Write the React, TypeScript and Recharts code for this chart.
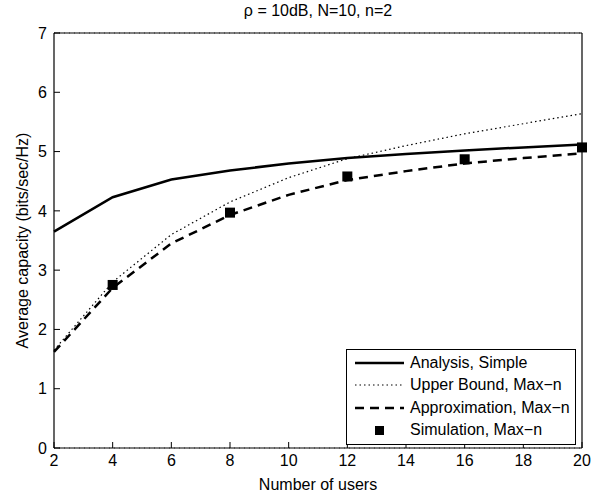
import { ComposedChart, Line, Scatter, XAxis, YAxis, CartesianGrid } from 'recharts'

// users axis (even values only, markers every 4)
const users = [2, 4, 6, 8, 10, 12, 14, 16, 18, 20]
const analysisSimple = [3.65, 4.23, 4.53, 4.68, 4.8, 4.89, 4.96, 5.02, 5.07, 5.12]
const upperBound = [1.65, 2.8, 3.6, 4.15, 4.56, 4.88, 5.1, 5.3, 5.47, 5.64]
const approximation = [1.62, 2.7, 3.45, 3.93, 4.27, 4.52, 4.67, 4.8, 4.89, 4.97]

const simUsers = [4, 8, 12, 16, 20]
const simulation = [2.75, 3.97, 4.58, 4.87, 5.07]

const xTicks = [2, 4, 6, 8, 10, 12, 14, 16, 18, 20]
const yTicks = [0, 1, 2, 3, 4, 5, 6, 7]

const FONT = '"Liberation Sans", Arial, Helvetica, sans-serif'

const toRows = (ys: number[]) => users.map((x, i) => ({ x, y: ys[i] }))
const simRows = simUsers.map((x, i) => ({ x, y: simulation[i] }))

const legendItems = [
  { name: 'Analysis, Simple', kind: 'solid' },
  { name: 'Upper Bound, Max\u2212n', kind: 'dotted' },
  { name: 'Approximation, Max\u2212n', kind: 'dashed' },
  { name: 'Simulation, Max\u2212n', kind: 'square' },
]

function LegendBox() {
  return (
    <div
      style={{
        position: 'absolute',
        left: 346,
        top: 349,
        width: 228,
        height: 94,
        border: '1.5px solid #000',
        background: '#fff',
        fontFamily: FONT,
        fontSize: 16,
        color: '#000',
      }}
    >
      {legendItems.map((item, i) => (
        <div
          key={item.name}
          style={{ position: 'absolute', left: 0, top: 3 + i * 22.3, height: 20, display: 'flex', alignItems: 'center' }}
        >
          <svg width={63} height={20} style={{ display: 'block' }}>
            {item.kind === 'solid' && <line x1={8} x2={57} y1={10} y2={10} stroke="#000" strokeWidth={2.5} />}
            {item.kind === 'dotted' && (
              <line x1={8} x2={57} y1={10} y2={10} stroke="#000" strokeWidth={1.2} strokeDasharray="1.5 3" />
            )}
            {item.kind === 'dashed' && (
              <line x1={8} x2={57} y1={10} y2={10} stroke="#000" strokeWidth={2.5} strokeDasharray="9 6" />
            )}
            {item.kind === 'square' && <rect x={28} y={6} width={9} height={9} fill="#000" />}
          </svg>
          <span style={{ whiteSpace: 'nowrap' }}>{item.name}</span>
        </div>
      ))}
    </div>
  )
}

const SquareMark = (props: any) => {
  const { cx, cy } = props
  return <rect x={cx - 5} y={cy - 5} width={10} height={10} fill="#000" />
}

export default function App() {
  const tickStyle = { fill: '#000', fontSize: 16, fontFamily: FONT }
  return (
    <div style={{ position: 'absolute', left: 0, top: 0, width: 606, height: 496, background: '#fff', fontFamily: FONT }}>
      <div
        style={{ position: 'absolute', left: 54, width: 528, top: 2, textAlign: 'center', fontSize: 16, color: '#000' }}
      >
        {'\u03c1 = 10dB, N=10, n=2'}
      </div>
      <ComposedChart width={606} height={496} margin={{ top: 0, right: 0, bottom: 0, left: 0 }}>
        <CartesianGrid vertical={false} stroke="#555" strokeWidth={1} strokeDasharray="1 4" />
        <XAxis
          xAxisId="b"
          dataKey="x"
          type="number"
          domain={[2, 20]}
          ticks={xTicks}
          height={48}
          tick={tickStyle}
          tickSize={-6}
          tickMargin={13}
          stroke="#000"
          axisLine={{ stroke: '#000', strokeWidth: 1.2 }}
          allowDuplicatedCategory={false}
          label={{ value: 'Number of users', position: 'insideBottom', offset: 6, fill: '#000', fontSize: 16, fontFamily: FONT }}
        />
        <XAxis
          xAxisId="t"
          orientation="top"
          type="number"
          domain={[2, 20]}
          ticks={xTicks}
          height={33}
          tickSize={-6}
          tickFormatter={() => ''}
          stroke="#000"
          axisLine={{ stroke: '#000', strokeWidth: 1.2 }}
        />
        <YAxis
          yAxisId="l"
          type="number"
          domain={[0, 7]}
          ticks={yTicks}
          width={54}
          tick={tickStyle}
          tickSize={-6}
          tickMargin={13}
          stroke="#000"
          axisLine={{ stroke: '#000', strokeWidth: 1.2 }}
          label={{
            value: 'Average capacity (bits/sec/Hz)',
            angle: -90,
            position: 'insideLeft',
            offset: 22,
            fill: '#000',
            fontSize: 16,
            fontFamily: FONT,
            style: { textAnchor: 'middle' },
          }}
        />
        <YAxis
          yAxisId="r"
          orientation="right"
          type="number"
          domain={[0, 7]}
          ticks={yTicks}
          width={24}
          tickSize={-6}
          tickFormatter={() => ''}
          stroke="#000"
          axisLine={{ stroke: '#000', strokeWidth: 1.2 }}
        />
        <Line
          xAxisId="b"
          yAxisId="l"
          data={toRows(analysisSimple)}
          dataKey="y"
          type="linear"
          stroke="#000"
          strokeWidth={2.5}
          dot={false}
          isAnimationActive={false}
        />
        <Line
          xAxisId="b"
          yAxisId="l"
          data={toRows(upperBound)}
          dataKey="y"
          type="linear"
          stroke="#000"
          strokeWidth={1.2}
          strokeDasharray="1.5 3"
          dot={false}
          isAnimationActive={false}
        />
        <Line
          xAxisId="b"
          yAxisId="l"
          data={toRows(approximation)}
          dataKey="y"
          type="linear"
          stroke="#000"
          strokeWidth={2.5}
          strokeDasharray="9 6"
          dot={false}
          isAnimationActive={false}
        />
        <Scatter
          xAxisId="b"
          yAxisId="l"
          data={simRows}
          dataKey="y"
          fill="#000"
          shape={SquareMark}
          isAnimationActive={false}
        />
      </ComposedChart>
      <LegendBox />
    </div>
  )
}
